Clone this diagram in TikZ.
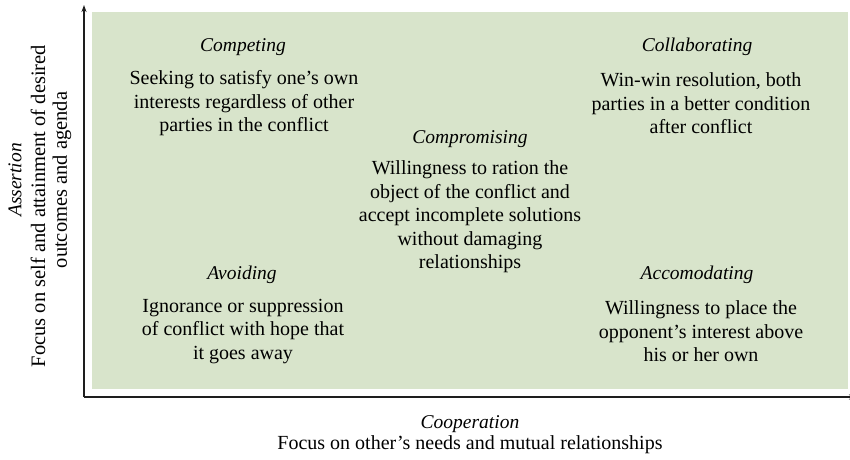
\documentclass[tikz,border=0pt]{standalone}
\usepackage{fontspec}
\setmainfont{Liberation Serif}
\usetikzlibrary{arrows.meta}
\definecolor{quadgreen}{RGB}{216,228,203}
\definecolor{axisgray}{RGB}{30,30,30}
\tikzset{
  bodytext/.style={align=center, font=\fontsize{20}{23.5}\selectfont, text=black, inner sep=0pt},
  titletext/.style={align=center, font=\fontsize{19.5}{22}\selectfont\itshape, text=black, inner sep=0pt},
  axistext/.style={align=center, font=\fontsize{20.5}{24}\selectfont, text=black, inner sep=0pt},
  axisline/.style={draw=axisgray, line width=1.3pt},
}
\begin{document}
\begin{tikzpicture}[x=1pt,y=1pt]
\useasboundingbox (0,0) rectangle (850,459);
\fill[quadgreen] (92,70) rectangle (848,447);
\coordinate (origin) at (84,62);
\coordinate (ytop) at (84,454);
\coordinate (xend) at (856,62);
\draw[axisline, -{Stealth[length=7pt,width=5pt]}] (origin) -- (ytop);
\draw[axisline, -{Stealth[length=7pt,width=5pt]}] (origin) -- (xend);

\node[titletext] (t1) at (243,412) {Competing};
\node[bodytext] (b1) at (244,355.5) {Seeking to satisfy one’s own\\interests regardless of other\\parties in the conflict};

\node[titletext] (t2) at (697,412) {Collaborating};
\node[bodytext] (b2) at (701,355.5) {Win-win resolution, both\\parties in a better condition\\after conflict};

\node[titletext] (t3) at (470,320) {Compromising};
\node[bodytext] (b3) at (470,242) {Willingness to ration the\\object of the conflict and\\accept incomplete solutions\\without damaging\\relationships};

\node[titletext] (t4) at (242,184) {Avoiding};
\node[bodytext] (b4) at (243,127.5) {Ignorance or suppression\\of conflict with hope that\\it goes away};

\node[titletext] (t5) at (697,184) {Accomodating};
\node[bodytext] (b5) at (701,127.5) {Willingness to place the\\opponent’s interest above\\his or her own};

\node[titletext, rotate=90] (ytitle) at (15,279) {Assertion};
\node[axistext, rotate=90] (ylabel1) at (38,253) {Focus on self and attainment of desired};
\node[axistext, rotate=90] (ylabel2) at (62,279) {outcomes and agenda};

\node[titletext] (xtitle) at (470,35) {Cooperation};
\node[axistext, font=\fontsize{20}{24}\selectfont] (xlabel) at (470,14) {Focus on other’s needs and mutual relationships};
\end{tikzpicture}
\end{document}
